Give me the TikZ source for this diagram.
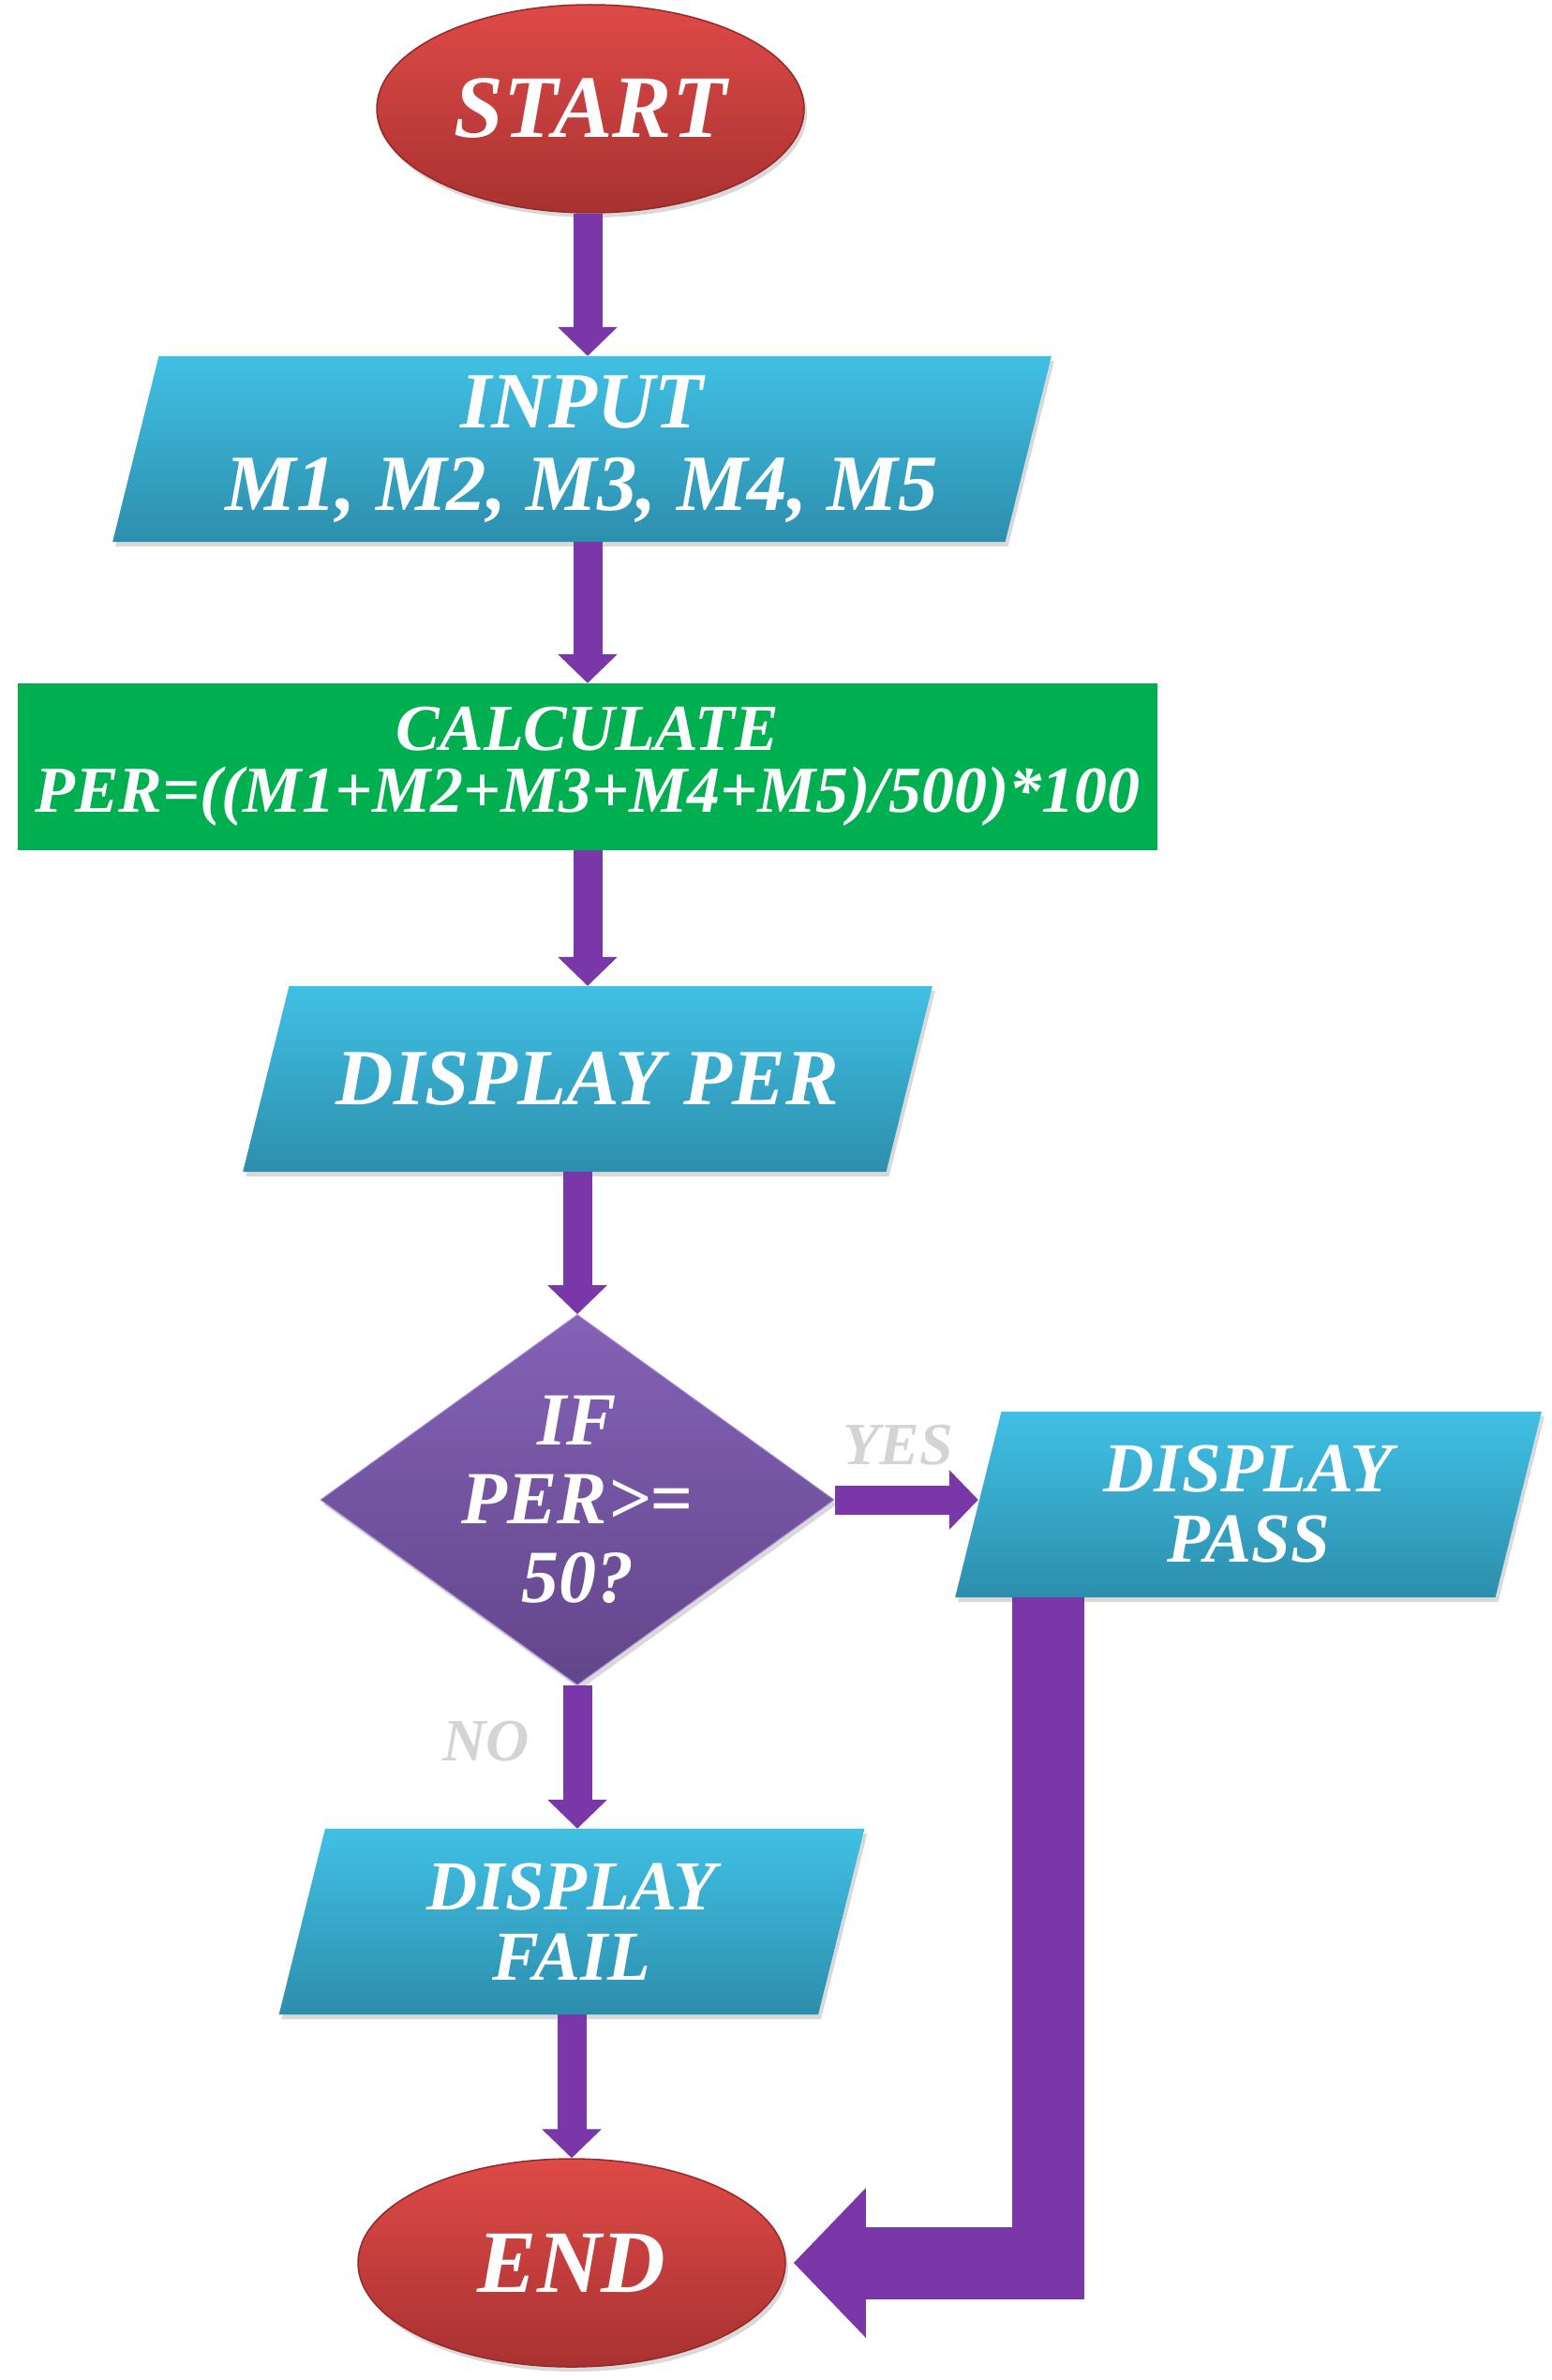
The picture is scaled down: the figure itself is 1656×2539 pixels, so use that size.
\documentclass[tikz,border=0pt]{standalone}
\usepackage{fontspec}
\setmainfont{Liberation Serif}
\usetikzlibrary{
  arrows.meta,      % for arrow tips
  shapes.geometric, % for ellipse and diamond
  shadows,          % for drop shadows
  backgrounds,      % for the slanted boxes behind the text
  calc}
\definecolor{term top}{RGB}{222,74,71}
\definecolor{term bottom}{RGB}{168,50,49}
\definecolor{term edge}{RGB}{150,40,40}
\definecolor{io top}{RGB}{64,192,229}
\definecolor{io bottom}{RGB}{45,142,172}
\definecolor{proc green}{RGB}{0,176,80}
\definecolor{dec top}{RGB}{132,98,183}
\definecolor{dec bottom}{RGB}{98,70,138}
\definecolor{dec edge}{RGB}{160,130,210}
\definecolor{flow purple}{RGB}{122,55,168}
\definecolor{label gray}{RGB}{212,212,212}
\tikzset{
  chart font/.style 2 args={font=\fontsize{#1}{#2}\selectfont\bfseries\itshape},
  basic shape/.style={
    text=white, align=center, inner sep=0pt},
  soft shadow/.style={
    drop shadow={opacity=.3, shadow xshift=3pt, shadow yshift=-5pt}},
  terminal/.style={
    basic shape, soft shadow, shape=ellipse, draw=term edge, line width=1.5pt,
    top color=term top, bottom color=term bottom,
    minimum width=456pt, minimum height=222pt, chart font={95}{100}},
  io box/.style={
    basic shape, shape=rectangle, minimum height=198pt},
  io shape/.style={
    soft shadow, top color=io top, bottom color=io bottom},
  process box/.style={
    basic shape, shape=rectangle, fill=proc green,
    minimum width=1216pt, minimum height=178pt},
  decision/.style={
    basic shape, soft shadow, shape=diamond, draw=dec edge, line width=1pt,
    top color=dec top, bottom color=dec bottom, inner sep=-20pt,
    minimum width=548pt, minimum height=395pt},
  branch label/.style={text=label gray, chart font={64}{66}},
  flow/.style={
    draw=flow purple, line width=31pt, -{Triangle[width=62pt, length=31pt]}},
  fat flow/.style={
    draw=flow purple, line width=77pt, -{Triangle[width=155pt, length=77pt]}}
}

\begin{document}
\begin{tikzpicture}[x=1pt, y=-1pt]
\useasboundingbox (0,0) rectangle (1656,2539);

\node[terminal] (start) at (630,116) {START};
\node[io box, minimum width=952pt, chart font={85}{88}] (input) at (621,479)
  {INPUT\\M1, M2, M3, M4, M5};
\node[process box, chart font={70}{66}] (calc) at (627,818)
  {CALCULATE\\PER=((M1+M2+M3+M4+M5)/500)*100};
\node[io box, minimum width=686pt, chart font={85}{88}] (show-per) at (627,1151)
  {DISPLAY PER};
\node[decision, chart font={80}{84}] (check) at (616,1600) {IF\\PER>=\\50?};
\node[io box, minimum width=576pt, chart font={75}{75}] (show-pass) at (1332,1605)
  {DISPLAY\\PASS};
\node[io box, minimum width=575pt, chart font={75}{75}] (show-fail) at (610,2050)
  {DISPLAY\\FAIL};
\node[terminal] (end) at (610,2414) {END};

\node[branch label] (yes) at (958,1542) {YES};
\node[branch label] (no) at (519,1858) {NO};

% slanted input/output boxes
\begin{scope}[on background layer]
  \foreach \b in {input, show-per, show-pass, show-fail}
    \path[io shape] ([xshift=-24.7pt]\b.south west) -- ([xshift=24.7pt]\b.north west)
      -- ([xshift=24.7pt]\b.north east) -- ([xshift=-24.7pt]\b.south east) -- cycle;
\end{scope}

\coordinate (pass-exit) at ([xshift=75pt]show-pass.south west);

\draw[flow] (start.south -| calc) -- (input.north -| calc);
\draw[flow] (input.south -| calc) -- (calc.north);
\draw[flow] (calc.south) -- (show-per.north -| calc);
\draw[flow] (show-per.south -| check) -- (check.north);
\draw[flow] (check.east) -- (check.east -| show-pass.west);
\draw[flow] (check.south) -- (check.south |- show-fail.north);
\draw[flow] (show-fail.south) -- (end.north);
\draw[fat flow, shorten >=8pt] (pass-exit) |- (end.east);
\end{tikzpicture}
\end{document}
